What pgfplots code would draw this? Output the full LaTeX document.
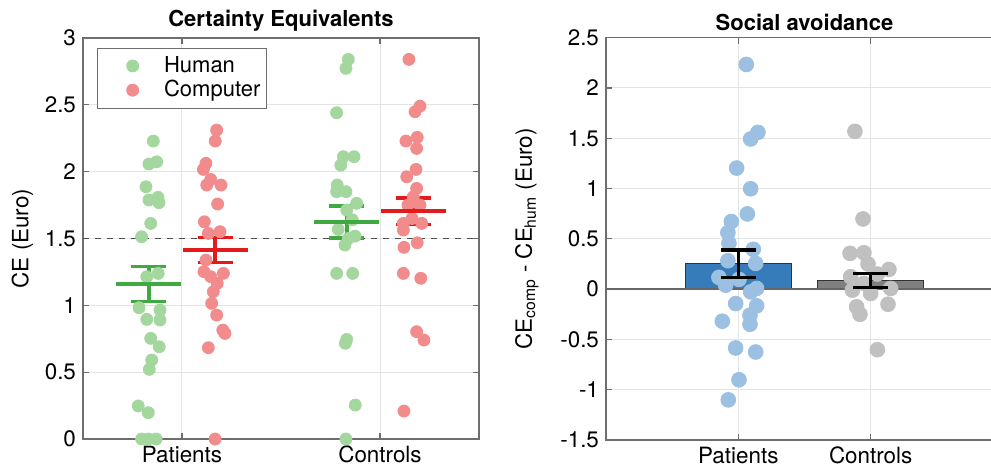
\documentclass[border=0pt]{standalone}
\usepackage{fontspec}
\setmainfont{TeX Gyre Heros}
\usepackage{pgfplots}
\pgfplotsset{compat=1.18}
\definecolor{lgreen}{RGB}{163,215,158}
\definecolor{lred}{RGB}{242,140,140}
\definecolor{mgreen}{RGB}{64,170,64}
\definecolor{mred}{RGB}{226,26,28}
\definecolor{barblue}{RGB}{55,124,186}
\definecolor{lblue}{RGB}{156,192,225}
\definecolor{bargray}{RGB}{128,128,128}
\definecolor{lgray}{RGB}{192,192,192}
\definecolor{gridc}{RGB}{228,228,228}
\definecolor{axc}{RGB}{110,110,110}
\pgfplotsset{
  myax/.style={
    scale only axis,
    axis line style={axc, line width=0.6pt},
    tick style={axc, line width=0.6pt},
    tick align=inside,
    major tick length=3pt,
    grid=major,
    major grid style={gridc, line width=0.5pt},
    tick label style={font=\fontsize{11.2}{13}\selectfont},
    label style={font=\fontsize{11.2}{13}\selectfont},
    title style={font=\bfseries\fontsize{11}{13}\selectfont, yshift=-6pt},
    /pgf/number format/assume math mode=true,
    xtick={1,2},
    xticklabels={Patients,Controls},
  }
}
\begin{document}
\begin{tikzpicture}
\begin{axis}[myax,
  width=198pt, height=200.5pt,
  xmin=0.5, xmax=2.5, ymin=0, ymax=3,
  ytick={0,0.5,1,1.5,2,2.5,3},
  yticklabels={0,0.5,1,1.5,2,2.5,3},
  ylabel={CE (Euro)},
  ylabel style={yshift=-1pt},
  title={Certainty Equivalents},
  legend style={at={(0.035,0.975)}, anchor=north west, draw=axc,
    font=\fontsize{11}{13}\selectfont, inner xsep=1pt, inner ysep=2pt,
    row sep=-1.5pt, legend cell align=left},
  legend image code/.code={\path (0pt,0pt) (30pt,0pt); \draw[#1] plot coordinates {(16.5pt,0pt)};},
]
\addplot[dashed, black!70, line width=0.5pt, forget plot] coordinates {(0.5,1.5) (2.5,1.5)};
% Human (green)
\addplot[only marks, mark=*, mark size=3pt, lgreen] coordinates {
(0.855,2.229) (0.833,2.057) (0.872,2.074) (0.818,1.887) (0.833,1.788) (0.879,1.808)
(0.884,1.768) (0.842,1.613) (0.796,1.513) (0.822,1.214) (0.880,1.239) (0.783,0.982)
(0.889,0.965) (0.822,0.895) (0.889,0.890) (0.842,0.753) (0.885,0.690) (0.847,0.591)
(0.835,0.521) (0.779,0.247) (0.830,0.197) (0.796,0) (0.830,0) (0.869,0)
(1.840,2.840) (1.828,2.773) (1.781,2.441) (1.815,2.112) (1.869,2.112) (1.802,2.049)
(1.784,1.900) (1.781,1.850) (1.828,1.850) (1.882,1.763) (1.832,1.713) (1.860,1.640)
(1.789,1.568) (1.874,1.518) (1.823,1.451) (1.840,1.500) (1.781,1.239) (1.862,1.239)
(1.832,0.745) (1.825,0.716) (1.875,0.254) (1.828,0)
};
\addlegendentry{Human}
% Computer (red)
\addplot[only marks, mark=*, mark size=3pt, lred] coordinates {
(1.175,2.311) (1.168,2.229) (1.121,2.062) (1.108,2.017) (1.145,1.942) (1.125,1.900)
(1.197,1.900) (1.180,1.758) (1.113,1.625) (1.133,1.538) (1.192,1.551) (1.121,1.339)
(1.111,1.252) (1.209,1.239) (1.145,1.214) (1.178,1.164) (1.158,1.102) (1.150,1.015)
(1.175,0.927) (1.206,0.815) (1.217,0.790) (1.133,0.683) (1.167,0)
(2.146,2.840) (2.202,2.490) (2.177,2.448) (2.131,2.229) (2.188,2.257) (2.185,2.174)
(2.182,2.017) (2.135,1.962) (2.185,1.875) (2.168,1.812) (2.202,1.750) (2.141,1.750)
(2.162,1.650) (2.118,1.613) (2.211,1.613) (2.118,1.563) (2.188,1.468) (2.121,1.434)
(2.118,1.239) (2.206,1.202) (2.185,0.803) (2.222,0.740) (2.121,0.209)
};
\addlegendentry{Computer}
% means with SE
\addplot[forget plot, only marks, mark=-, mark size=16.25pt, mgreen, mark options={line width=1.8pt},
  error bars/.cd, y dir=both, y explicit, error bar style={line width=1.8pt, mgreen},
  error mark options={rotate=90, mark size=8.75pt, line width=1.8pt, mgreen}]
  coordinates {(0.833,1.159) +- (0,0.131) (1.833,1.625) +- (0,0.119)};
\addplot[forget plot, only marks, mark=-, mark size=16.25pt, mred, mark options={line width=1.8pt},
  error bars/.cd, y dir=both, y explicit, error bar style={line width=1.8pt, mred},
  error mark options={rotate=90, mark size=8.75pt, line width=1.8pt, mred}]
  coordinates {(1.167,1.414) +- (0,0.094) (2.167,1.705) +- (0,0.100)};
\end{axis}

\begin{axis}[myax,
  at={(261.5pt,-0.5pt)}, anchor=south west,
  width=198.5pt, height=201.15pt,
  xmin=0, xmax=3, ymin=-1.5, ymax=2.5,
  clip marker paths=true,
  ytick={-1.5,-1,-0.5,0,0.5,1,1.5,2,2.5},
  yticklabels={-1.5,-1,-0.5,0,0.5,1,1.5,2,2.5},
  ylabel={CE\textsubscript{comp} - CE\textsubscript{hum} (Euro)},
  ylabel style={yshift=4pt},
  title={Social avoidance},
]
\addplot[ybar, bar width=0.8, bar shift=0pt, fill=barblue, draw=black!80, line width=0.5pt] coordinates {(1,0.252)};
\addplot[ybar, bar width=0.8, bar shift=0pt, fill=bargray, draw=black!80, line width=0.5pt] coordinates {(2,0.085)};
\addplot[black!60, line width=0.7pt] coordinates {(0,0) (3,0)};
\addplot[only marks, mark=*, mark size=3.7pt, lblue] coordinates {
(1.060,2.234) (1.148,1.559) (1.093,1.493) (0.987,1.204) (1.093,0.998) (1.068,0.748)
(0.947,0.672) (0.921,0.562) (0.929,0.456) (1.113,0.396) (0.921,0.283) (1.131,0.256)
(0.853,0.117) (1.005,0.097) (0.904,0.040) (1.138,0.007) (1.093,-0.027) (0.980,-0.143)
(1.138,-0.166) (1.088,-0.259) (1.088,-0.349) (0.879,-0.319) (0.980,-0.585) (1.131,-0.625)
(1.005,-0.901) (0.924,-1.101)
};
\addplot[only marks, mark=*, mark size=3.7pt, lgray] coordinates {
(1.881,1.569) (1.942,0.698) (1.844,0.356) (1.949,0.362) (2.138,0.196) (1.849,0.123)
(1.949,0.057) (2.151,0.007) (1.862,-0.010) (2.000,-0.043) (2.131,-0.150) (1.894,-0.176)
(1.919,-0.250) (2.051,-0.602) (2.050,0.150) (1.980,0.250)
};
\addplot[draw=none, mark=none,
  error bars/.cd, y dir=both, y explicit, error bar style={draw=black, line width=1.8pt},
  error mark options={rotate=90, draw=black, mark size=8.75pt, line width=1.8pt}]
  coordinates {(1,0.253) +- (0,0.136) (2,0.087) +- (0,0.070)};
\end{axis}
\pgfresetboundingbox
\path (-41.5pt,-17pt) rectangle (454pt,219.5pt);
\end{tikzpicture}
\end{document}
